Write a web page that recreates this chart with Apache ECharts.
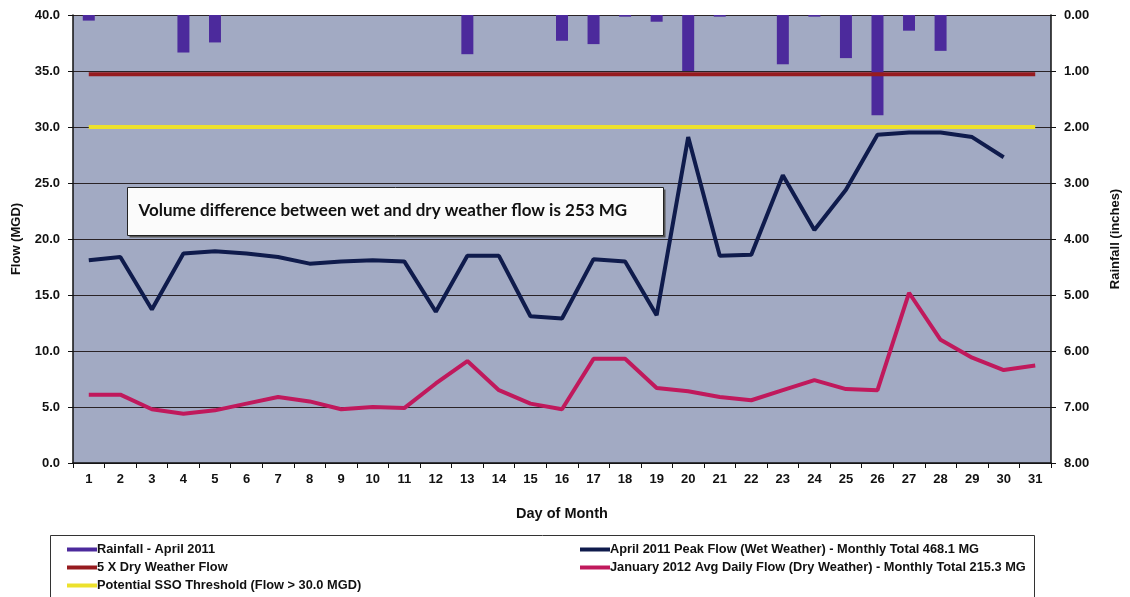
<!DOCTYPE html>
<html>
<head>
<meta charset="utf-8">
<style>
  html, body { margin: 0; padding: 0; background: #fff; }
  #chart { width: 1130px; height: 597px; }
</style>
<script src="https://cdn.jsdelivr.net/npm/echarts@6/dist/echarts.min.js"></script>
</head>
<body>
<div id="chart"></div>
<script>
// day of month
const days = ['1', '2', '3', '4', '5', '6', '7', '8', '9', '10', '11', '12', '13', '14', '15', '16',
  '17', '18', '19', '20', '21', '22', '23', '24', '25', '26', '27', '28', '29', '30', '31']

// rainfall, inches (right axis, hanging from top)
const rainfall = [0.10, 0, 0, 0.67, 0.49, 0, 0, 0, 0, 0, 0, 0, 0.70, 0, 0, 0.46,
  0.52, 0.03, 0.12, 1.00, 0.03, 0, 0.88, 0.03, 0.77, 1.79, 0.28, 0.64, 0, 0, 0]

// April 2011 peak flow, MGD (no reading on day 31)
const peakFlow = [18.1, 18.4, 13.7, 18.7, 18.9, 18.7, 18.4, 17.8, 18.0, 18.1, 18.0, 13.5, 18.5, 18.5, 13.1, 12.9,
  18.2, 18.0, 13.2, 29.1, 18.5, 18.6, 25.7, 20.8, 24.4, 29.3, 29.5, 29.5, 29.1, 27.3, null]

// January 2012 avg daily flow, MGD
const dryFlow = [6.1, 6.1, 4.8, 4.4, 4.7, 5.3, 5.9, 5.5, 4.8, 5.0, 4.9, 7.1, 9.1, 6.5, 5.3, 4.8,
  9.3, 9.3, 6.7, 6.4, 5.9, 5.6, 6.5, 7.4, 6.6, 6.5, 15.2, 11.0, 9.4, 8.3, 8.7]

const dryX5 = days.map(() => 34.7)
const ssoLimit = days.map(() => 30.0)

const flowTicks = ['0.0', '5.0', '10.0', '15.0', '20.0', '25.0', '30.0', '35.0', '40.0']

const chart = echarts.init(document.getElementById('chart'))
const boldFont = 'Liberation Sans'
const legendText = { fontFamily: boldFont, fontWeight: 'bold', fontSize: 12.8, color: '#111', padding: [0, 0, 0, -5] }

chart.setOption({
  animation: false,
  backgroundColor: '#fff',
  grid: {
    left: 73,
    right: 69,
    top: 15,
    bottom: 134,
    show: true,
    backgroundColor: '#a2aac3',
    borderWidth: 0
  },
  legend: [
    {
      orient: 'vertical',
      left: 62,
      top: 538,
      itemWidth: 30,
      itemHeight: 4,
      itemGap: 5,
      icon: 'rect',
      textStyle: legendText,
      data: ['Rainfall - April 2011', '5 X Dry Weather Flow', 'Potential SSO Threshold (Flow > 30.0 MGD)']
    },
    {
      orient: 'vertical',
      left: 575,
      top: 538,
      itemWidth: 30,
      itemHeight: 4,
      itemGap: 5,
      icon: 'rect',
      textStyle: legendText,
      data: ['April 2011 Peak Flow (Wet Weather) - Monthly Total 468.1 MG',
        'January 2012 Avg Daily Flow (Dry Weather) - Monthly Total 215.3 MG']
    }
  ],
  graphic: [
    {
      type: 'rect',
      left: 48,
      top: 533,
      shape: { width: 984, height: 64 },
      style: { fill: 'none', stroke: '#333', lineWidth: 1 },
      silent: true
    },
    {
      type: 'group',
      left: 127,
      top: 187,
      children: [
        {
          type: 'rect',
          shape: { x: 2, y: 2, width: 536, height: 48 },
          style: { fill: '#555' }
        },
        {
          type: 'rect',
          shape: { width: 536, height: 48 },
          style: { fill: '#fbfbfb', stroke: '#222', lineWidth: 1 }
        },
        {
          type: 'text',
          x: 11,
          y: 15,
          style: {
            text: 'Volume difference between wet and dry weather flow is 253 MG',
            font: 'bold 17px Lato',
            fill: '#111'
          }
        }
      ]
    }
  ],
  xAxis: {
    type: 'category',
    data: days,
    name: 'Day of Month',
    nameLocation: 'middle',
    nameGap: 43,
    nameTextStyle: { fontFamily: boldFont, fontWeight: 'bold', fontSize: 14.5, color: '#111' },
    axisLine: { lineStyle: { color: '#111', width: 1.5 } },
    axisTick: { show: true, length: 5, lineStyle: { color: '#111' } },
    axisLabel: { fontFamily: boldFont, fontWeight: 'bold', fontSize: 13, color: '#111', margin: 10 },
    splitLine: { show: false }
  },
  yAxis: [
    {
      type: 'value',
      min: 0,
      max: 40,
      interval: 5,
      name: 'Flow (MGD)',
      nameLocation: 'middle',
      nameGap: 50,
      nameTextStyle: { fontFamily: boldFont, fontWeight: 'bold', fontSize: 13, color: '#111' },
      axisLine: { show: true, lineStyle: { color: '#111', width: 1.5 } },
      axisTick: { show: true, length: 5, lineStyle: { color: '#111' } },
      axisLabel: {
        fontFamily: boldFont, fontWeight: 'bold', fontSize: 13, color: '#111', margin: 13,
        formatter: (v) => flowTicks[Math.round(v / 5)]
      },
      splitLine: { show: true, lineStyle: { color: '#2a2326', width: 1.2 } }
    },
    {
      type: 'value',
      min: 0,
      max: 8,
      interval: 1,
      inverse: true,
      name: 'Rainfall (inches)',
      nameLocation: 'middle',
      nameGap: 58,
      nameRotate: 90,
      nameTextStyle: { fontFamily: boldFont, fontWeight: 'bold', fontSize: 13, color: '#111' },
      axisLine: { show: true, lineStyle: { color: '#111', width: 1.5 } },
      axisTick: { show: true, length: 5, lineStyle: { color: '#111' } },
      axisLabel: {
        fontFamily: boldFont, fontWeight: 'bold', fontSize: 13, color: '#111', margin: 13,
        formatter: (v) => v.toFixed(2)
      },
      splitLine: { show: false }
    }
  ],
  series: [
    {
      name: 'Rainfall - April 2011',
      type: 'bar',
      yAxisIndex: 1,
      barWidth: '38%',
      itemStyle: { color: '#4c2a9c' },
      data: rainfall
    },
    {
      name: '5 X Dry Weather Flow',
      type: 'line',
      symbol: 'none',
      lineStyle: { color: '#961b1f', width: 4 },
      itemStyle: { color: '#961b1f' },
      data: dryX5
    },
    {
      name: 'Potential SSO Threshold (Flow > 30.0 MGD)',
      type: 'line',
      symbol: 'none',
      lineStyle: { color: '#ece12c', width: 4 },
      itemStyle: { color: '#ece12c' },
      data: ssoLimit
    },
    {
      name: 'April 2011 Peak Flow (Wet Weather) - Monthly Total 468.1 MG',
      type: 'line',
      symbol: 'none',
      lineStyle: { color: '#0f1b4c', width: 4 },
      itemStyle: { color: '#0f1b4c' },
      data: peakFlow
    },
    {
      name: 'January 2012 Avg Daily Flow (Dry Weather) - Monthly Total 215.3 MG',
      type: 'line',
      symbol: 'none',
      lineStyle: { color: '#c0195c', width: 4 },
      itemStyle: { color: '#c0195c' },
      data: dryFlow
    }
  ]
})
</script>
</body>
</html>
